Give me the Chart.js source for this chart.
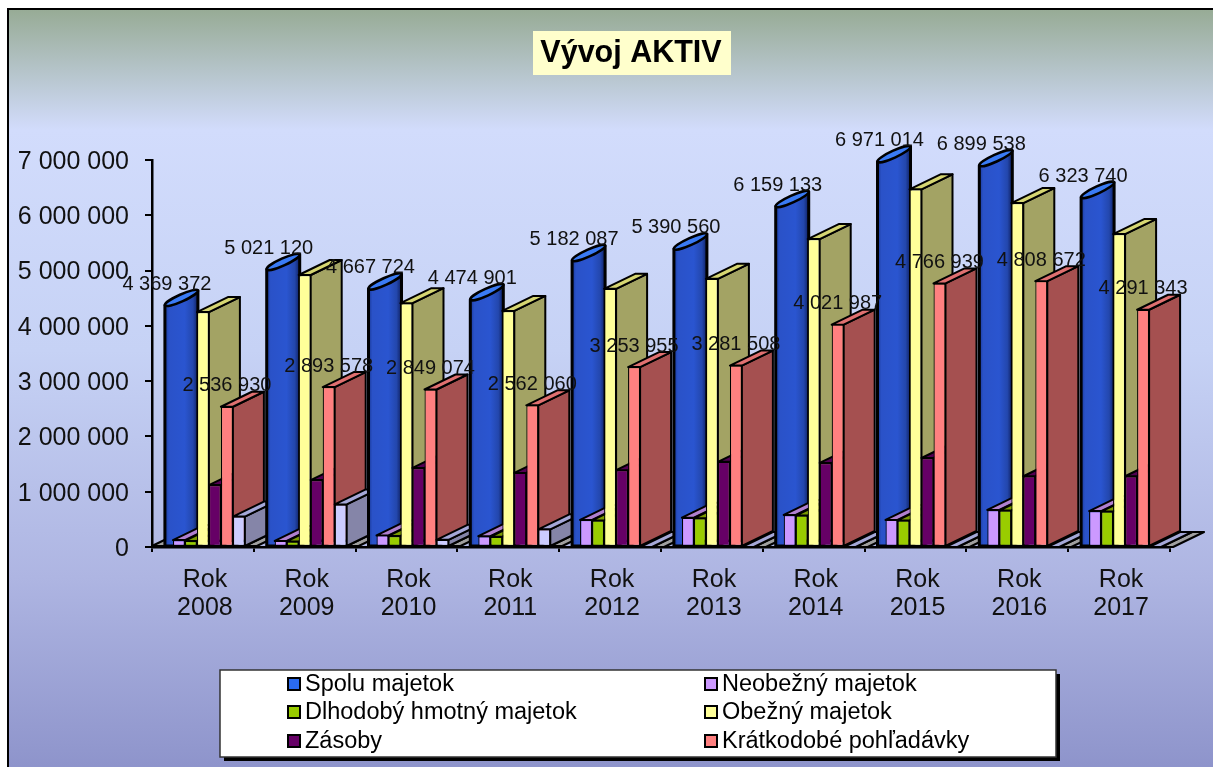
<!DOCTYPE html>
<html>
<head>
<meta charset="utf-8">
<title>Vývoj AKTIV</title>
<script src="https://cdn.jsdelivr.net/npm/chart.js@4"></script>
<style>
  body { margin: 0; background: #fff; }
  canvas { display: block; filter: blur(0.5px); }
</style>
</head>
<body>
<canvas id="aktivaChart" width="1213" height="767"></canvas>
<script>
// === DATA ===
const years = ['2008', '2009', '2010', '2011', '2012', '2013', '2014', '2015', '2016', '2017'];
const yTickLabels = ['0', '1 000 000', '2 000 000', '3 000 000', '4 000 000', '5 000 000', '6 000 000', '7 000 000'];
const legendNames = ['Spolu majetok', 'Neobežný majetok', 'Dlhodobý hmotný majetok', 'Obežný majetok', 'Zásoby', 'Krátkodobé pohľadávky'];

const spolu = [4369372, 5021120, 4667724, 4474901, 5182087, 5390560, 6159133, 6971014, 6899538, 6323740];
const neobezny = [125000, 110000, 210000, 195000, 490000, 530000, 580000, 490000, 670000, 650000];
const dlhodoby = [110000, 100000, 200000, 185000, 480000, 520000, 570000, 480000, 660000, 640000];
const obezny = [4250000, 4920000, 4410000, 4270000, 4670000, 4850000, 5570000, 6470000, 6220000, 5660000];
const zasoby = [1120000, 1210000, 1430000, 1340000, 1390000, 1540000, 1520000, 1610000, 1280000, 1280000];
const pohladavky = [2536930, 2893578, 2849074, 2562060, 3253955, 3281508, 4021987, 4766939, 4808672, 4291343];
const ostatne = [550000, 770000, 130000, 320000, 0, 0, 0, 0, 0, 0];

// front, top and side colours per series
const faces = [
  { front: '#2a52c8', top: '#3a7bf5', side: '#2a52c8' },
  { front: '#cc99ff', top: '#b080d0', side: '#9070b0' },
  { front: '#99cc00', top: '#7a9a00', side: '#6f8c00' },
  { front: '#ffff99', top: '#d6d672', side: '#a3a364' },
  { front: '#660066', top: '#520052', side: '#4a004a' },
  { front: '#ff8080', top: '#e07070', side: '#a55050' },
  { front: '#ccccff', top: '#a5a8d8', side: '#8585a8' }
];

const FONT = '"Liberation Sans", Arial, sans-serif';
const DEPTH_X = 31;
const DEPTH_Y = 15;

// === 3D HELPERS ===
function poly(ctx, pts, fill) {
  ctx.beginPath();
  pts.forEach(function(p, i) {
    if (i === 0) ctx.moveTo(p[0], p[1]); else ctx.lineTo(p[0], p[1]);
  });
  ctx.closePath();
  ctx.fillStyle = fill;
  ctx.fill();
  ctx.strokeStyle = '#000';
  ctx.lineWidth = 2;
  ctx.stroke();
}

function drawBox(ctx, el, face) {
  const l = el.x - el.width / 2;
  const r = l + el.width;
  if (el.base - el.y > 0) {
    poly(ctx, [[r, el.y], [r + DEPTH_X, el.y - DEPTH_Y], [r + DEPTH_X, el.base - DEPTH_Y], [r, el.base]], face.side);
  }
  poly(ctx, [[l, el.y], [l + DEPTH_X, el.y - DEPTH_Y], [r + DEPTH_X, el.y - DEPTH_Y], [r, el.y]], face.top);
  if (el.base - el.y > 0) el.draw(ctx);
}

// blue series is a cylinder leaning back
function drawCylinder(ctx, el, face) {
  const x0 = el.x - el.width / 2 + 4;
  const w = 33;
  const cx = x0 + w / 2;
  const cy = el.y - DEPTH_Y / 2;
  const rot = -Math.atan2(DEPTH_Y, w);
  const rx = Math.hypot(w, DEPTH_Y) / 2;

  const grad = ctx.createLinearGradient(x0, 0, x0 + w, 0);
  grad.addColorStop(0, '#1a3a9a');
  grad.addColorStop(0.12, '#2a52c8');
  grad.addColorStop(0.6, '#2a55d0');
  grad.addColorStop(0.85, '#2347ad');
  grad.addColorStop(1, '#0e1f60');

  ctx.beginPath();
  ctx.moveTo(x0, el.base);
  ctx.lineTo(x0, el.y);
  ctx.lineTo(x0 + w, el.y - DEPTH_Y);
  ctx.lineTo(x0 + w, el.base);
  ctx.closePath();
  ctx.fillStyle = grad;
  ctx.fill();
  ctx.strokeStyle = '#000';
  ctx.lineWidth = 3;
  ctx.stroke();

  ctx.beginPath();
  ctx.ellipse(cx, cy, rx, 3.5, rot, 0, Math.PI * 2);
  ctx.fillStyle = face.top;
  ctx.fill();
  ctx.lineWidth = 2.5;
  ctx.stroke();
}

function drawFloor(ctx, x, w, y) {
  poly(ctx, [[x, y], [x + DEPTH_X, y - DEPTH_Y], [x + w + DEPTH_X, y - DEPTH_Y], [x + w, y]], '#a0a0a0');
}

// === CUSTOM PLUGIN: background, 3D bars, value labels, title, legend ===
const sheetPlugin = {
  id: 'sheet',
  beforeDraw: function(chart) {
    const ctx = chart.ctx;
    const W = chart.width;
    const H = chart.height;
    ctx.save();
    ctx.fillStyle = '#fff';
    ctx.fillRect(0, 0, W, H);
    const grad = ctx.createLinearGradient(0, 9, 0, H);
    grad.addColorStop(0, '#97ab95');
    grad.addColorStop(0.16, '#d2dcfc');
    grad.addColorStop(0.45, '#c6d2f5');
    grad.addColorStop(0.75, '#aeb5e2');
    grad.addColorStop(1, '#8e94cb');
    ctx.fillStyle = grad;
    ctx.fillRect(8, 9, W - 8, H - 9);
    // sheet frame: the crop cuts the right and bottom edges
    ctx.strokeStyle = '#000';
    ctx.lineWidth = 2;
    ctx.beginPath();
    ctx.moveTo(8, H);
    ctx.lineTo(8, 9);
    ctx.lineTo(W, 9);
    ctx.stroke();
    ctx.restore();
  },
  beforeDatasetsDraw: function(chart) {
    const ctx = chart.ctx;
    const metas = chart.data.datasets.map(function(d, i) { return chart.getDatasetMeta(i); });
    ctx.save();
    ctx.lineJoin = 'round';
    years.forEach(function(y, i) {
      metas.forEach(function(meta, j) {
        const el = meta.data[i];
        if (j === 0) {
          if (i === 0) drawFloor(ctx, chart.chartArea.left, el.width, el.base);
          drawCylinder(ctx, el, faces[j]);
        } else {
          if (j === metas.length - 1) drawFloor(ctx, el.x + el.width / 2, el.width, el.base);
          drawBox(ctx, el, faces[j]);
        }
      });
    });
    // value labels only on total and receivables
    ctx.fillStyle = '#111';
    ctx.font = '20px ' + FONT;
    ctx.textAlign = 'center';
    ctx.textBaseline = 'middle';
    [0, 5].forEach(function(j) {
      const values = chart.data.datasets[j].data;
      metas[j].data.forEach(function(el, i) {
        const txt = String(values[i]).replace(/\B(?=(\d{3})+$)/g, ' ');
        ctx.fillText(txt, el.x, el.y - 21);
      });
    });
    ctx.restore();
    return false;
  },
  afterDraw: function(chart) {
    const ctx = chart.ctx;
    ctx.save();

    // title
    ctx.fillStyle = '#ffffcc';
    ctx.fillRect(533, 31, 198, 44);
    ctx.fillStyle = '#000';
    ctx.font = 'bold 30.5px ' + FONT;
    ctx.textAlign = 'center';
    ctx.textBaseline = 'middle';
    ctx.fillText('Vývoj AKTIV', 631, 54);

    // legend box with hard shadow
    ctx.fillStyle = '#000';
    ctx.fillRect(224, 674, 836, 87);
    ctx.fillStyle = '#fff';
    ctx.fillRect(220, 670, 836, 87);
    ctx.strokeStyle = '#333';
    ctx.lineWidth = 1.5;
    ctx.strokeRect(220, 670, 836, 87);

    const colX = [288, 705];
    const rowY = [684, 712, 741];
    ctx.font = '23.5px ' + FONT;
    ctx.textAlign = 'left';
    legendNames.forEach(function(name, i) {
      const x = colX[i % 2];
      const y = rowY[Math.floor(i / 2)];
      ctx.fillStyle = i === 0 ? '#2a6af0' : faces[i].front;
      ctx.fillRect(x, y - 6, 12, 12);
      ctx.strokeStyle = '#000';
      ctx.lineWidth = 2;
      ctx.strokeRect(x, y - 6, 12, 12);
      ctx.fillStyle = '#000';
      ctx.fillText(name, x + 17, y + 1);
    });
    ctx.restore();
  }
};

// === CHART ===
const ctx = document.getElementById('aktivaChart').getContext('2d');
const series = [spolu, neobezny, dlhodoby, obezny, zasoby, pohladavky, ostatne];

new Chart(ctx, {
  type: 'bar',
  data: {
    labels: years.map(function(y) { return ['Rok', y]; }),
    datasets: series.map(function(values, i) {
      return {
        data: values,
        backgroundColor: faces[i].front,
        borderColor: '#000',
        borderWidth: 1.2,
        borderSkipped: false
      };
    })
  },
  options: {
    responsive: false,
    animation: false,
    categoryPercentage: 0.825,
    barPercentage: 1,
    layout: { padding: { top: 160, right: 43, left: 0, bottom: 0 } },
    plugins: {
      legend: { display: false },
      tooltip: { enabled: false }
    },
    scales: {
      x: {
        afterFit: function(scale) { scale.height = 220; },
        grid: { drawOnChartArea: false, color: '#000', lineWidth: 2, tickLength: 5 },
        border: { color: '#000', width: 2.5 },
        ticks: {
          color: '#111',
          font: { family: FONT, size: 25, lineHeight: 1.13 },
          maxRotation: 0,
          autoSkip: false,
          padding: 14,
          labelOffset: 2
        }
      },
      y: {
        min: 0,
        max: 7000000,
        afterFit: function(scale) { scale.width = 152; },
        grid: { drawOnChartArea: false, color: '#000', lineWidth: 2, tickLength: 7 },
        border: { color: '#000', width: 2.5 },
        ticks: {
          stepSize: 1000000,
          color: '#111',
          font: { family: FONT, size: 25 },
          padding: 16,
          labelOffset: 2,
          callback: function(value, i) { return yTickLabels[i]; }
        }
      }
    }
  },
  plugins: [sheetPlugin]
});
</script>
</body>
</html>
